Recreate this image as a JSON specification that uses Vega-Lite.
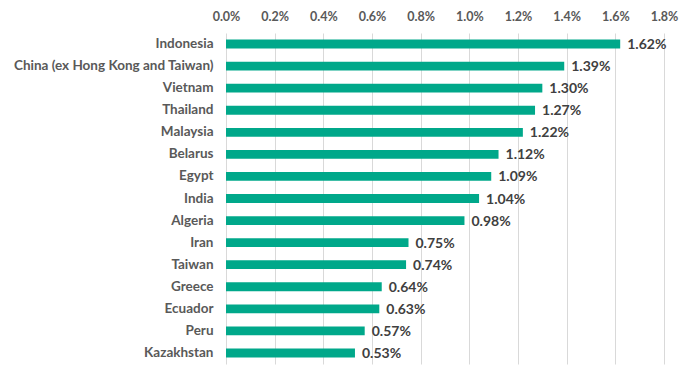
{
  "$schema": "https://vega.github.io/schema/vega-lite/v6.json",
  "width": 438,
  "height": 331,
  "autosize": {"type": "none"},
  "padding": {"left": 226, "top": 33, "right": 28, "bottom": 16},
  "background": "white",
  "config": {"view": {"stroke": null}, "font": "Lato"},
  "data": {"values": [
    {"country": "Indonesia", "value": 0.0162},
    {"country": "China (ex Hong Kong and Taiwan)", "value": 0.0139},
    {"country": "Vietnam", "value": 0.0130},
    {"country": "Thailand", "value": 0.0127},
    {"country": "Malaysia", "value": 0.0122},
    {"country": "Belarus", "value": 0.0112},
    {"country": "Egypt", "value": 0.0109},
    {"country": "India", "value": 0.0104},
    {"country": "Algeria", "value": 0.0098},
    {"country": "Iran", "value": 0.0075},
    {"country": "Taiwan", "value": 0.0074},
    {"country": "Greece", "value": 0.0064},
    {"country": "Ecuador", "value": 0.0063},
    {"country": "Peru", "value": 0.0057},
    {"country": "Kazakhstan", "value": 0.0053}
  ]},
  "encoding": {
    "y": {"field": "country", "type": "nominal", "sort": null,
      "scale": {"paddingInner": 0.6, "paddingOuter": 0.3},
      "axis": {"title": null, "domain": false, "ticks": false, "labelPadding": 13, "labelLimit": 400,
        "labelFont": "Lato", "labelFontSize": 13.5, "labelFontWeight": "bold", "labelColor": "#595959"}},
    "x": {"field": "value", "type": "quantitative",
      "scale": {"domain": [0, 0.018], "nice": false},
      "axis": {"orient": "top", "title": null, "format": ".1%", "values": [0, 0.002, 0.004, 0.006, 0.008, 0.01, 0.012, 0.014, 0.016, 0.018],
        "domain": false, "ticks": false, "grid": true, "gridColor": "#d9d9d9", "labelPadding": 10, "labelFlush": false, "labelOverlap": false,
        "labelFont": "Lato", "labelFontSize": 12.5, "labelFontWeight": "bold", "labelColor": "#595959"}}
  },
  "layer": [
    {"mark": {"type": "bar", "color": "#00A88A"}},
    {"mark": {"type": "text", "align": "left", "dx": 7, "dy": 1, "font": "Lato", "fontSize": 14, "fontWeight": "bold", "color": "#404040"},
      "encoding": {"text": {"field": "value", "type": "quantitative", "format": ".2%"}}}
  ]
}
